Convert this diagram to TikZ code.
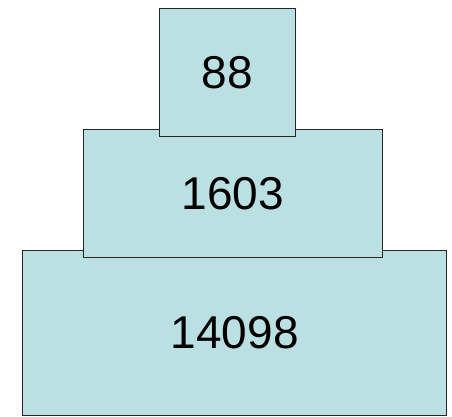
\documentclass[tikz,border=0pt]{standalone}
\usepackage{fontspec}
\setmainfont{Liberation Sans}
\definecolor{boxfill}{HTML}{BBE0E3}
\begin{document}
\begin{tikzpicture}[x=1pt,y=-1pt,
  tier/.style={draw=black!85, fill=boxfill, line width=1.1pt, inner sep=0pt,
    font=\fontsize{46}{50}\selectfont}]
\useasboundingbox (0,0) rectangle (452,417);
\node[tier, minimum width=424pt, minimum height=165pt] (bottom) at (234.7,332.8) {14098};
\node[tier, minimum width=298.7pt, minimum height=128.4pt] (middle) at (232.7,193.5) {1603};
\node[tier, minimum width=136.3pt, minimum height=128.4pt] (top) at (227.2,72.5) {88};
\end{tikzpicture}
\end{document}
